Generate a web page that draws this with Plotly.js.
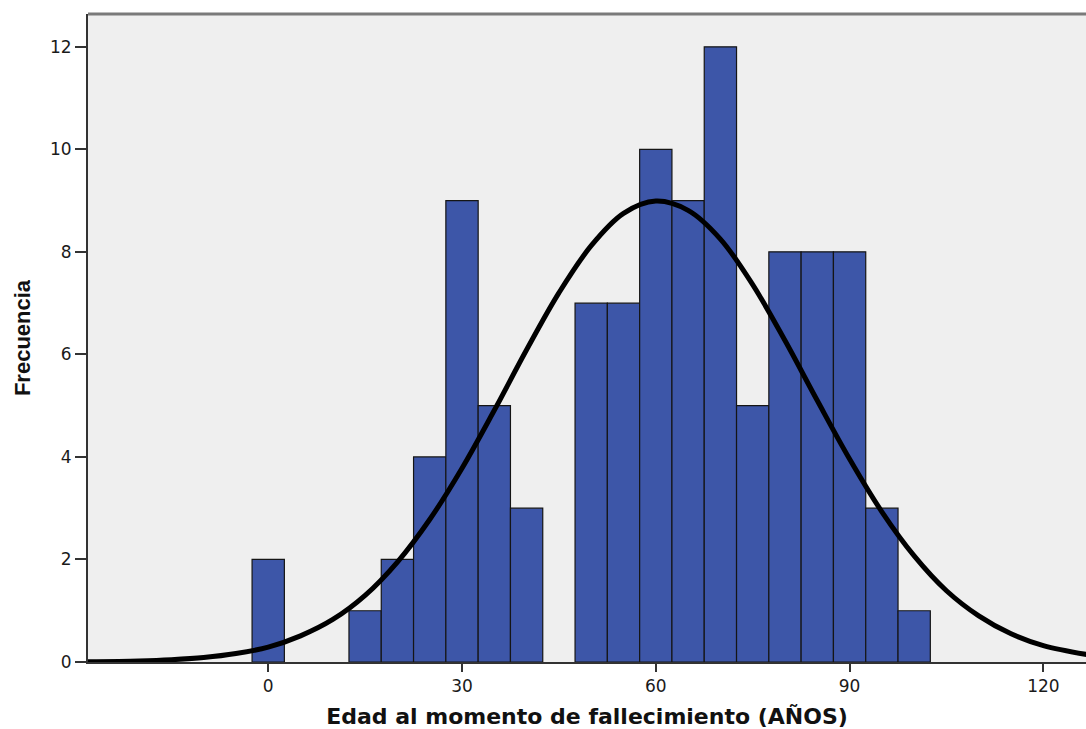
<!DOCTYPE html>
<html>
<head>
<meta charset="utf-8">
<script src="https://cdn.plot.ly/plotly-3.0.1.min.js"></script>
<style>html,body{margin:0;padding:0;background:#fff;}#chart{width:1086px;height:729px;}</style>
</head>
<body>
<div id="chart"></div>
<script>
// Histogram bins (centres, years) and frequencies
const binCenters = [0, 15, 20, 25, 30, 35, 40, 50, 55, 60, 65, 70, 75, 80, 85, 90, 95, 100];
const counts     = [2, 1, 2, 4, 9, 5, 3, 7, 7, 10, 9, 12, 5, 8, 8, 8, 3, 1];
const binWidth = 5;

// Normal curve
const curveX = [-28, -20, -15, -10, -5, 0, 5, 10, 15, 20, 25, 30, 35, 40, 45, 50, 55, 60, 65, 70, 75, 80, 85, 90, 95, 100, 105, 110, 115, 120, 127];
const curveY = [0.006, 0.021, 0.044, 0.086, 0.164, 0.29, 0.51, 0.83, 1.30, 1.95, 2.78, 3.78, 4.91, 6.09, 7.20, 8.12, 8.75, 8.99, 8.81, 8.25, 7.36, 6.27, 5.10, 3.96, 2.93, 2.07, 1.39, 0.90, 0.55, 0.32, 0.14];

const xTicks = [0, 30, 60, 90, 120];
const yTicks = [0, 2, 4, 6, 8, 10, 12];

const bars = {
  type: 'bar',
  x: binCenters,
  y: counts,
  width: binWidth,
  marker: {color: '#3D56A8', line: {color: '#151515', width: 1.2}},
  hoverinfo: 'x+y',
  showlegend: false
};

const curve = {
  type: 'scatter',
  mode: 'lines',
  x: curveX,
  y: curveY,
  line: {color: '#000000', width: 5, shape: 'spline', smoothing: 1},
  hoverinfo: 'skip',
  showlegend: false,
  cliponaxis: true
};

const layout = {
  width: 1086,
  height: 729,
  margin: {l: 88, r: 0, t: 14, b: 67},
  paper_bgcolor: '#ffffff',
  plot_bgcolor: '#EFEFEF',
  bargap: 0,
  showlegend: false,
  font: {family: 'DejaVu Sans, Verdana, sans-serif', color: '#1a1a1a', size: 16},
  xaxis: {
    range: [-27.9, 126.6],
    tickmode: 'array',
    tickvals: xTicks,
    ticktext: xTicks.map(String),
    ticks: 'outside',
    ticklen: 8,
    tickwidth: 2,
    tickcolor: '#333333',
    showline: true,
    linecolor: '#333333',
    linewidth: 2,
    showgrid: false,
    zeroline: false,
    tickfont: {family: 'DejaVu Sans, sans-serif', size: 17, color: '#1a1a1a'},
    title: {
      text: 'Edad al momento de fallecimiento (AÑOS)',
      font: {family: 'DejaVu Sans, Verdana, sans-serif', size: 22, color: '#111111', weight: 'bold'},
      standoff: 15
    },
    automargin: false
  },
  yaxis: {
    range: [0, 12.64],
    tickmode: 'array',
    tickvals: yTicks,
    ticktext: yTicks.map(String),
    ticks: 'outside',
    ticklen: 11,
    tickwidth: 2,
    tickcolor: '#333333',
    showline: true,
    linecolor: '#333333',
    linewidth: 2,
    showgrid: false,
    zeroline: false,
    tickfont: {family: 'DejaVu Sans, sans-serif', size: 17, color: '#1a1a1a'},
    title: {
      text: 'Frecuencia',
      font: {family: 'Liberation Sans Narrow, Arial Narrow, Liberation Sans, sans-serif', size: 22, color: '#111111', weight: 'bold'},
      standoff: 13
    },
    automargin: false
  },
  shapes: [
    {type: 'line', xref: 'paper', yref: 'paper', x0: 0, x1: 1, y0: 1, y1: 1,
     line: {color: '#7a7a7a', width: 3}}
  ]
};

Plotly.newPlot('chart', [bars, curve], layout, {displayModeBar: false, staticPlot: true});
</script>
</body>
</html>
